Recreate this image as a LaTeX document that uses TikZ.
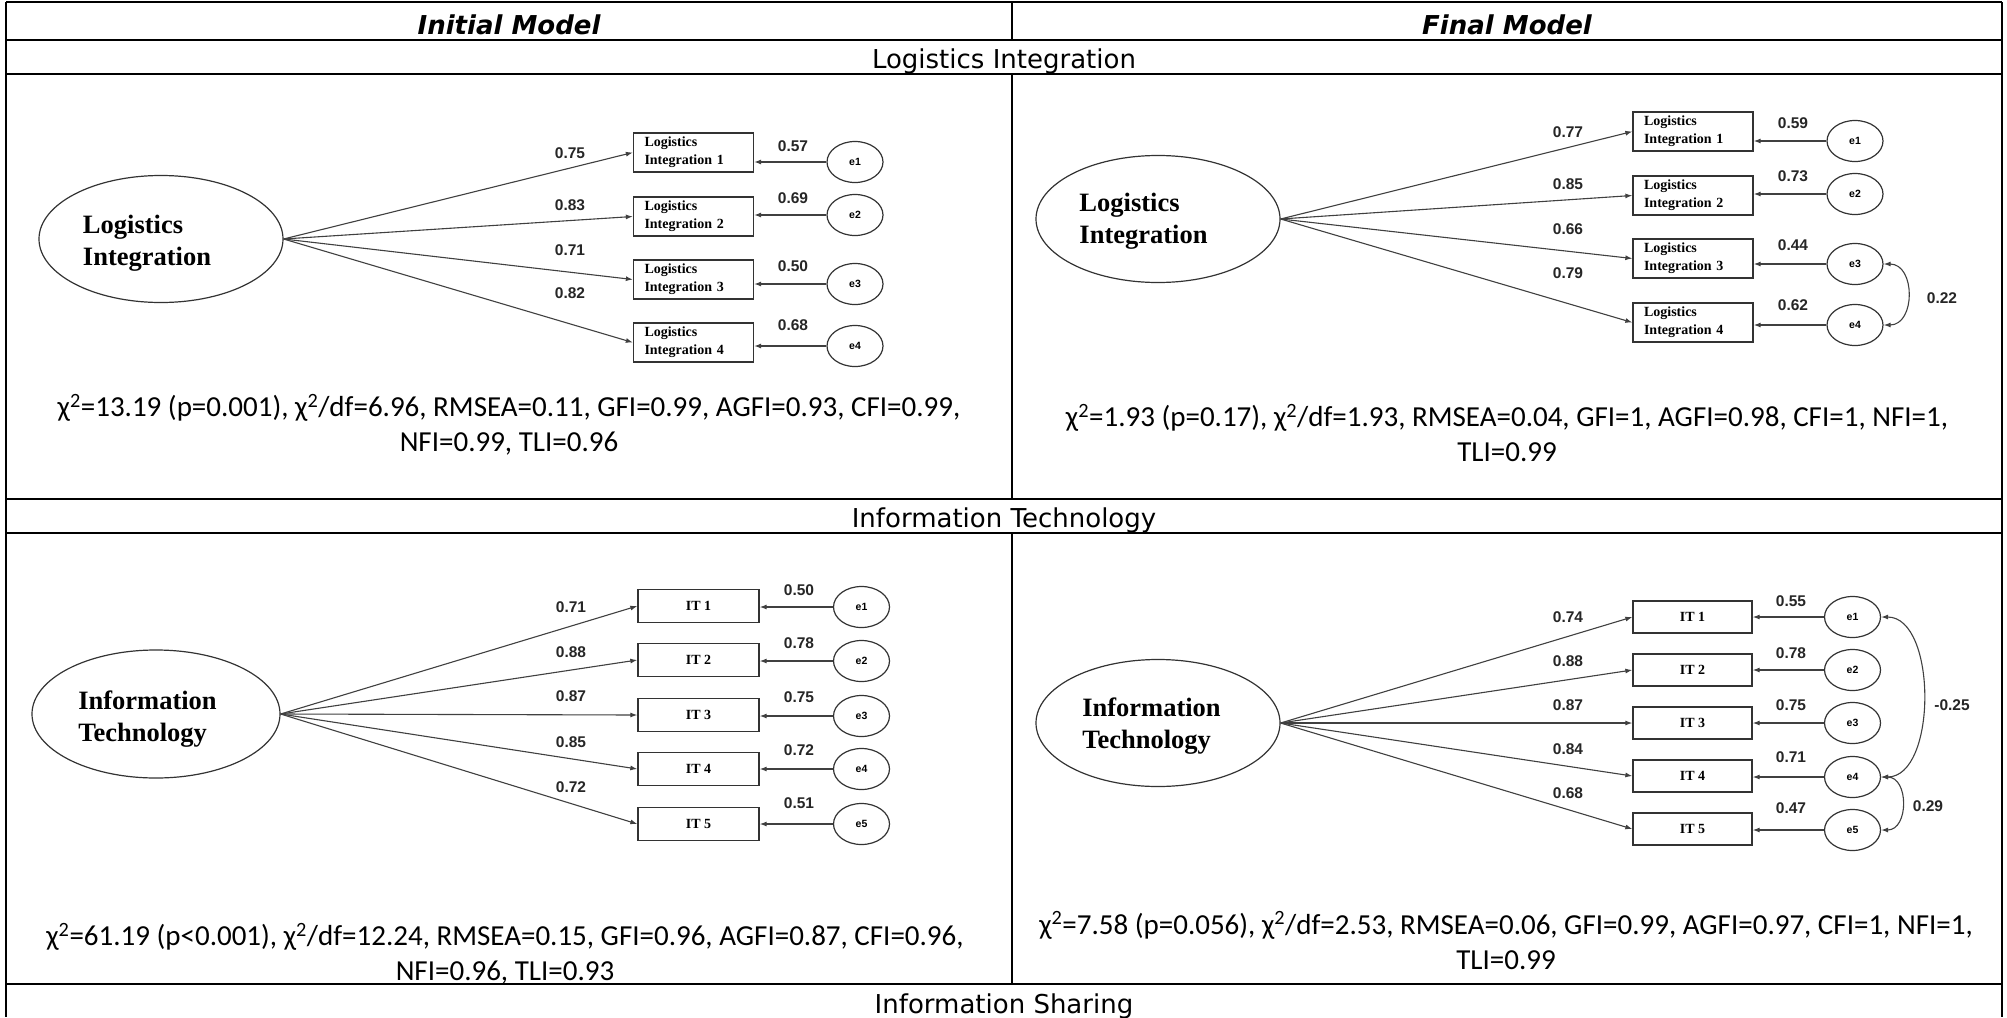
\documentclass[tikz,border=0pt]{standalone}
\usepackage{fontspec}
\setmainfont{Liberation Serif}
\newfontfamily\verdfont{DejaVu Sans}
\newfontfamily\calfont{Carlito}
\newfontfamily\arifont{Liberation Sans}
\newfontfamily\timfont{Liberation Serif}
\usetikzlibrary{shapes.geometric,arrows.meta}
\tikzset{
  tbl/.style={line width=2.5pt, black},
  lat/.style={ellipse, draw=black!80, line width=1.2pt, minimum width=244pt, minimum height=127pt, inner sep=0pt},
  lattext/.style={align=left, inner sep=0pt, font=\timfont\bfseries\fontsize{26.5}{32}\selectfont},
  obs/.style={rectangle, draw=black!80, line width=1.3pt, text width=98pt, inner xsep=11pt, inner ysep=0pt, minimum height=39pt, align=left, font=\timfont\bfseries\fontsize{14}{18}\selectfont},
  obsit/.style={rectangle, draw=black!80, line width=1.3pt, minimum width=120pt, minimum height=33pt, inner sep=0pt, font=\timfont\bfseries\fontsize{14}{16}\selectfont},
  err/.style={ellipse, draw=black!80, line width=1.2pt, minimum width=56pt, minimum height=41pt, inner sep=0pt, font=\arifont\bfseries\fontsize{10.5}{12}\selectfont},
  num/.style={font=\arifont\bfseries\fontsize{15.5}{18}\selectfont, text=black!85, inner sep=0pt},
  lpath/.style={-{Latex[length=7pt,width=5pt]}, line width=1.1pt, draw=black!75},
  cov/.style={{Latex[length=7pt,width=5pt]}-{Latex[length=7pt,width=5pt]}, line width=1.1pt, draw=black!75},
  fitline/.style={font=\calfont\fontsize{29}{35}\selectfont, align=center, inner sep=0pt},
  hdr/.style={font=\verdfont\bfseries\itshape\fontsize{26}{30}\selectfont, anchor=base, inner sep=0pt},
  ttl/.style={font=\verdfont\fontsize{26}{30}\selectfont, anchor=base, inner sep=0pt}
}
\begin{document}
\begin{tikzpicture}[x=1pt,y=-1pt]
\useasboundingbox (0,0) rectangle (2007,1017);
\fill[white] (0,0) rectangle (2007,1017);
% table
\draw[tbl] (6,2) -- (2002,2);
\draw[tbl] (6,40) -- (2002,40);
\draw[tbl] (6,74) -- (2002,74);
\draw[tbl] (6,499) -- (2002,499);
\draw[tbl] (6,533) -- (2002,533);
\draw[tbl] (6,984) -- (2002,984);
\draw[tbl] (6,2) -- (6,1017);
\draw[tbl] (2002,2) -- (2002,1017);
\draw[tbl] (1012,2) -- (1012,40);
\draw[tbl] (1012,74) -- (1012,499);
\draw[tbl] (1012,533) -- (1012,984);
% titles
\node[hdr] (h1) at (509,34) {Initial Model};
\node[hdr] (h2) at (1507,34) {Final Model};
\node[ttl] (t1) at (1004,68) {Logistics Integration};
\node[ttl] (t2) at (1004,527) {Information Technology};
\node[ttl] (t3) at (1004,1013) {Information Sharing};

% ---------- LI initial ----------
\node[lat] (A) at (161,239) {};
\node[lattext] (Atx) at (147,243) {Logistics\\Integration};
\node[obs] (A1) at (693.5,152.5) {Logistics\\Integration 1};
\node[obs] (A2) at (693.5,216.5) {Logistics\\Integration 2};
\node[obs] (A3) at (693.5,279.5) {Logistics\\Integration 3};
\node[obs] (A4) at (693.5,342.5) {Logistics\\Integration 4};
\node[err] (Ae1) at (855,162) {e1};
\node[err] (Ae2) at (855,215) {e2};
\node[err] (Ae3) at (855,284) {e3};
\node[err] (Ae4) at (855,346) {e4};
\foreach \i in {1,...,4}{
  \draw[lpath] (A.east) -- (A\i.west);
  \draw[lpath] (Ae\i.west) -- (Ae\i.west -| A\i.east);
}
\node[num] (An1) at (570,153) {0.75};
\node[num] (An2) at (570,205) {0.83};
\node[num] (An3) at (570,250) {0.71};
\node[num] (An4) at (570,293) {0.82};
\node[num] (Am1) at (793,146) {0.57};
\node[num] (Am2) at (793,198) {0.69};
\node[num] (Am3) at (793,266) {0.50};
\node[num] (Am4) at (793,325) {0.68};
\node[fitline] (Afit) at (509,425) {χ\textsuperscript{2}=13.19 (p=0.001), χ\textsuperscript{2}/df=6.96, RMSEA=0.11, GFI=0.99, AGFI=0.93, CFI=0.99,\\NFI=0.99, TLI=0.96};

% ---------- LI final ----------
\node[lat] (B) at (1158,219) {};
\node[lattext] (Btx) at (1143.5,221) {Logistics\\Integration};
\node[obs] (B1) at (1693,131.5) {Logistics\\Integration 1};
\node[obs] (B2) at (1693,195.5) {Logistics\\Integration 2};
\node[obs] (B3) at (1693,258.5) {Logistics\\Integration 3};
\node[obs] (B4) at (1693,322.5) {Logistics\\Integration 4};
\node[err] (Be1) at (1855,141) {e1};
\node[err] (Be2) at (1855,194) {e2};
\node[err] (Be3) at (1855,264) {e3};
\node[err] (Be4) at (1855,325) {e4};
\foreach \i in {1,...,4}{
  \draw[lpath] (B.east) -- (B\i.west);
  \draw[lpath] (Be\i.west) -- (Be\i.west -| B\i.east);
}
\draw[cov] (Be3.east) to[out=0,in=0,looseness=1.35] (Be4.east);
\node[num] (Bn1) at (1568,132) {0.77};
\node[num] (Bn2) at (1568,184) {0.85};
\node[num] (Bn3) at (1568,229) {0.66};
\node[num] (Bn4) at (1568,273) {0.79};
\node[num] (Bm1) at (1793,123) {0.59};
\node[num] (Bm2) at (1793,176) {0.73};
\node[num] (Bm3) at (1793,245) {0.44};
\node[num] (Bm4) at (1793,305) {0.62};
\node[num] (Bc1) at (1942,298) {0.22};
\node[fitline] (Bfit) at (1507,433) {χ\textsuperscript{2}=1.93 (p=0.17), χ\textsuperscript{2}/df=1.93, RMSEA=0.04, GFI=1, AGFI=0.98, CFI=1, NFI=1,\\TLI=0.99};

% ---------- IT initial ----------
\node[lat, minimum width=248pt, minimum height=128pt] (C) at (156,714) {};
\node[lattext] (Ctx) at (147.5,719.5) {Information\\Technology};
\node[obsit, minimum width=121pt] (C1) at (698.5,606) {IT 1};
\node[obsit, minimum width=121pt] (C2) at (698.5,660) {IT 2};
\node[obsit, minimum width=121pt] (C3) at (698.5,715) {IT 3};
\node[obsit, minimum width=121pt] (C4) at (698.5,769) {IT 4};
\node[obsit, minimum width=121pt] (C5) at (698.5,824) {IT 5};
\node[err] (Ce1) at (861.5,607) {e1};
\node[err] (Ce2) at (861.5,661) {e2};
\node[err] (Ce3) at (861.5,716) {e3};
\node[err] (Ce4) at (861.5,769) {e4};
\node[err] (Ce5) at (861.5,824) {e5};
\foreach \i in {1,...,5}{
  \draw[lpath] (C.east) -- (C\i.west);
  \draw[lpath] (Ce\i.west) -- (Ce\i.west -| C\i.east);
}
\node[num] (Cn1) at (571,607) {0.71};
\node[num] (Cn2) at (571,652) {0.88};
\node[num] (Cn3) at (571,696) {0.87};
\node[num] (Cn4) at (571,742) {0.85};
\node[num] (Cn5) at (571,787) {0.72};
\node[num] (Cm1) at (799,590) {0.50};
\node[num] (Cm2) at (799,643) {0.78};
\node[num] (Cm3) at (799,697) {0.75};
\node[num] (Cm4) at (799,750) {0.72};
\node[num] (Cm5) at (799,803) {0.51};
\node[fitline] (Cfit) at (505,953.5) {χ\textsuperscript{2}=61.19 (p<0.001), χ\textsuperscript{2}/df=12.24, RMSEA=0.15, GFI=0.96, AGFI=0.87, CFI=0.96,\\NFI=0.96, TLI=0.93};

% ---------- IT final ----------
\node[lat] (D) at (1158,723) {};
\node[lattext] (Dtx) at (1151.5,726.5) {Information\\Technology};
\node[obsit, minimum width=119pt, minimum height=32pt] (D1) at (1692.5,617) {IT 1};
\node[obsit, minimum width=119pt, minimum height=32pt] (D2) at (1692.5,670) {IT 2};
\node[obsit, minimum width=119pt, minimum height=32pt] (D3) at (1692.5,723) {IT 3};
\node[obsit, minimum width=119pt, minimum height=32pt] (D4) at (1692.5,776) {IT 4};
\node[obsit, minimum width=119pt, minimum height=32pt] (D5) at (1692.5,829) {IT 5};
\node[err] (De1) at (1852.5,617) {e1};
\node[err] (De2) at (1852.5,670) {e2};
\node[err] (De3) at (1852.5,723) {e3};
\node[err] (De4) at (1852.5,777) {e4};
\node[err] (De5) at (1852.5,830) {e5};
\foreach \i in {1,...,5}{
  \draw[lpath] (D.east) -- (D\i.west);
  \draw[lpath] (De\i.west) -- (De\i.west -| D\i.east);
}
\draw[cov] (De1.east) to[out=0,in=0,looseness=0.9] (De4.east);
\draw[cov] (De4.east) to[out=0,in=0,looseness=1.35] (De5.east);
\node[num] (Dn1) at (1568,617) {0.74};
\node[num] (Dn2) at (1568,661) {0.88};
\node[num] (Dn3) at (1568,705) {0.87};
\node[num] (Dn4) at (1568,749) {0.84};
\node[num] (Dn5) at (1568,793) {0.68};
\node[num] (Dm1) at (1791,601) {0.55};
\node[num] (Dm2) at (1791,653) {0.78};
\node[num] (Dm3) at (1791,705) {0.75};
\node[num] (Dm4) at (1791,757) {0.71};
\node[num] (Dm5) at (1791,808) {0.47};
\node[num] (Dc1) at (1952,705) {-0.25};
\node[num] (Dc2) at (1928,806) {0.29};
\node[fitline] (Dfit) at (1506,940.5) {χ\textsuperscript{2}=7.58 (p=0.056), χ\textsuperscript{2}/df=2.53, RMSEA=0.06, GFI=0.99, AGFI=0.97, CFI=1, NFI=1,\\TLI=0.99};
\end{tikzpicture}
\end{document}
